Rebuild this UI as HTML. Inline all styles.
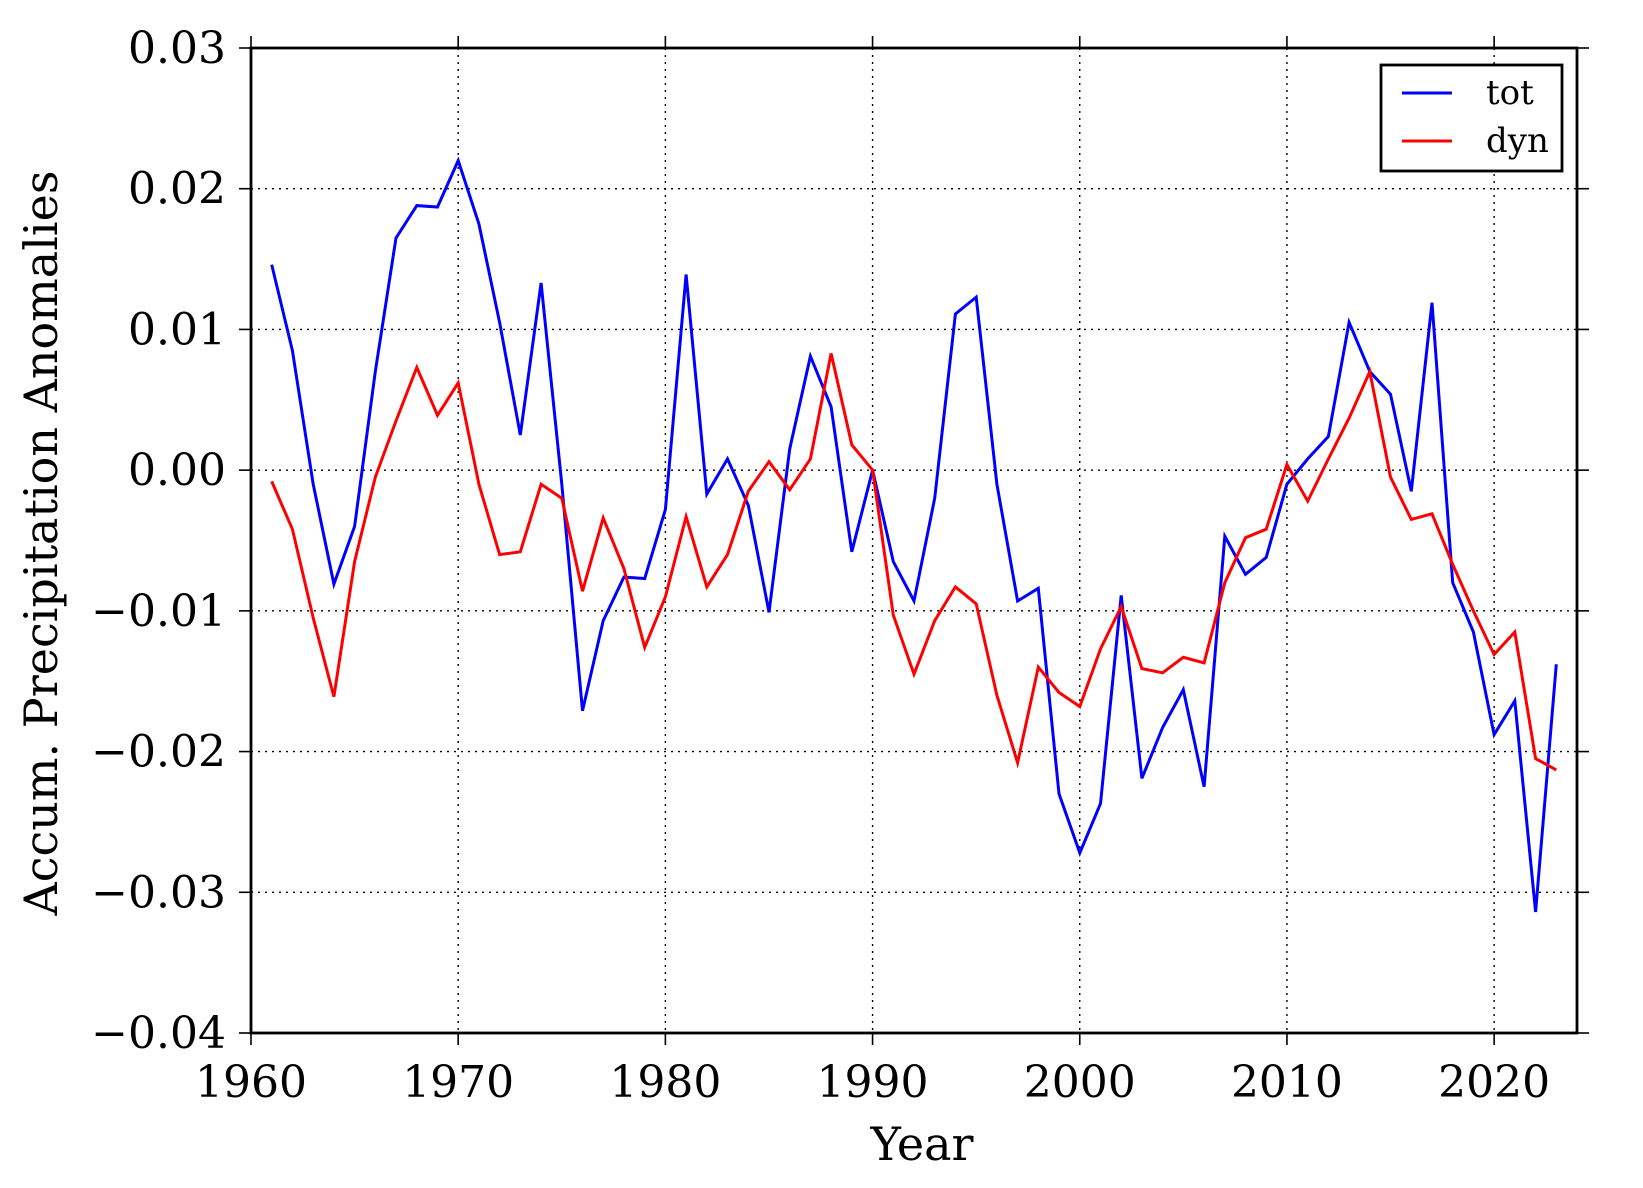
<!DOCTYPE html>
<html><head><meta charset="utf-8"><style>
body{margin:0;background:#fff}
svg text{font-family:"DejaVu Serif","Liberation Serif",serif;fill:#000}
</style></head><body>
<svg id="chart" width="1643" height="1183" xmlns="http://www.w3.org/2000/svg"></svg>
<script>
const years = [];
for (let y = 1961; y <= 2023; y++) years.push(y);
const totValues = [1.46,0.85,-0.1,-0.81,-0.4,0.7,1.65,1.88,1.87,2.2,1.75,1.05,0.25,1.33,-0.1,-1.71,-1.07,-0.76,-0.77,-0.28,1.39,-0.17,0.08,-0.25,-1.01,0.15,0.81,0.45,-0.58,0.0,-0.65,-0.93,-0.2,1.11,1.23,-0.1,-0.93,-0.84,-2.3,-2.72,-2.37,-0.89,-2.19,-1.83,-1.56,-2.25,-0.47,-0.74,-0.62,-0.1,0.08,0.24,1.05,0.7,0.54,-0.15,1.19,-0.8,-1.15,-1.88,-1.64,-3.14,-1.38].map(v=>v/100);
const dynValues = [-0.08,-0.42,-1.05,-1.61,-0.65,-0.05,0.35,0.73,0.39,0.62,-0.1,-0.6,-0.58,-0.1,-0.2,-0.86,-0.34,-0.7,-1.26,-0.9,-0.33,-0.83,-0.6,-0.15,0.06,-0.14,0.08,0.83,0.18,0.0,-1.03,-1.45,-1.07,-0.83,-0.95,-1.6,-2.08,-1.4,-1.58,-1.68,-1.27,-0.97,-1.41,-1.44,-1.33,-1.37,-0.8,-0.48,-0.42,0.04,-0.22,0.08,0.37,0.7,-0.05,-0.35,-0.31,-0.67,-1.0,-1.31,-1.15,-2.05,-2.13].map(v=>v/100);
const xTicks = [1960,1970,1980,1990,2000,2010,2020];
const yTicks = [0.03,0.02,0.01,0.0,-0.01,-0.02,-0.03,-0.04];
const yTickLabels = ["0.03","0.02","0.01","0.00","\u22120.01","\u22120.02","\u22120.03","\u22120.04"];

const L=251,R=1577,T=48,B=1033;
const xMin=1960,xMax=2024,yMin=-0.04,yMax=0.03;
const xs=v=>L+(v-xMin)/(xMax-xMin)*(R-L);
const ys=v=>B-(v-yMin)/(yMax-yMin)*(B-T);
const svg=document.getElementById('chart');
const NS='http://www.w3.org/2000/svg';
function mk(tag,attrs,parent){const e=document.createElementNS(NS,tag);for(const k in attrs)e.setAttribute(k,attrs[k]);(parent||svg).appendChild(e);return e;}

xTicks.forEach(t=>{
  if(t===xMin) return;
  const g=mk('line',{x1:xs(t),x2:xs(t),y1:T,y2:B,stroke:'#000','stroke-width':1.4,'stroke-dasharray':'2,5'});
  
  
});
yTicks.forEach(t=>{
  if(t===yMin||t===yMax) return;
  const g=mk('line',{x1:L,x2:R,y1:ys(t),y2:ys(t),stroke:'#000','stroke-width':1.4,'stroke-dasharray':'2,5'});
  
  
});

function series(vals,color,name){
  const d=vals.map((v,i)=>(i?'L':'M')+xs(years[i]).toFixed(1)+','+ys(v).toFixed(1)).join(' ');
  const p=mk('path',{d:d,fill:'none',stroke:color,'stroke-width':3,'stroke-linejoin':'miter'});
  
  
}
series(totValues,'#0000ff','tot-line');
series(dynValues,'#ff0000','dyn-line');

const f=mk('rect',{x:L,y:T,width:R-L,height:B-T,fill:'none',stroke:'#000','stroke-width':2.8});



xTicks.forEach(t=>{
  const x=xs(t);
  mk('line',{x1:x,x2:x,y1:B,y2:B+12,stroke:'#000','stroke-width':1.6});
  mk('line',{x1:x,x2:x,y1:T,y2:T-12,stroke:'#000','stroke-width':1.6});
  const tx=mk('text',{x:x,y:1097,'text-anchor':'middle','font-size':44});
  tx.textContent=t;
  
  
});
yTicks.forEach((t,i)=>{
  const y=ys(t);
  mk('line',{x1:L-12,x2:L,y1:y,y2:y,stroke:'#000','stroke-width':1.6});
  mk('line',{x1:R,x2:R+12,y1:y,y2:y,stroke:'#000','stroke-width':1.6});
  const tx=mk('text',{x:226,y:y+15,'text-anchor':'end','font-size':44});
  tx.textContent=yTickLabels[i];
  
  
});

const xl=mk('text',{x:922,y:1160,'text-anchor':'middle','font-size':46});
xl.textContent='Year';


const yl=mk('text',{x:0,y:0,'text-anchor':'middle','font-size':46,transform:'translate(57,543) rotate(-90)'});
yl.textContent='Accum. Precipitation Anomalies';



const lg=mk('g',{});


mk('rect',{x:1381,y:65,width:181,height:106,fill:'#fff',stroke:'#000','stroke-width':2.8},lg);
[['tot','#0000ff',93],['dyn','#ff0000',141]].forEach(([n,c,y])=>{
  const e=mk('g',{},lg);
  
  
  mk('line',{x1:1402,x2:1452,y1:y,y2:y,stroke:c,'stroke-width':3},e);
  const t=mk('text',{x:1486,y:y+11,'font-size':34},e);
  t.textContent=n;
});
</script>
</body></html>
